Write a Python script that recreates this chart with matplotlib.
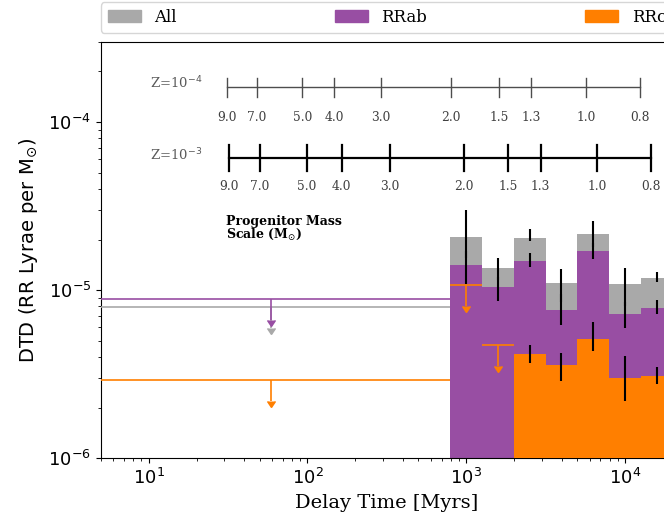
import matplotlib
matplotlib.use("Agg")
import matplotlib.pyplot as plt
from matplotlib.patches import Patch
import numpy as np

# delay time bins [Myr]
bin_edges = [794, 1259, 1995, 3162, 5012, 7943, 12589, 19953]
bin_mid = [1000, 1585, 2512, 3981, 6310, 10000, 15849]

# All RR Lyrae
all_val = [2.06e-5, 1.35e-5, 2.03e-5, 1.10e-5, 2.16e-5, 1.08e-5, 1.18e-5]
all_lo = [1.55e-5, 1.15e-5, 1.95e-5, 0.85e-5, 1.80e-5, 0.80e-5, 1.11e-5]
all_hi = [2.99e-5, 1.56e-5, 2.30e-5, 1.33e-5, 2.56e-5, 1.36e-5, 1.29e-5]

# RRab
rrab_val = [1.41e-5, 1.04e-5, 1.49e-5, 7.61e-6, 1.71e-5, 7.21e-6, 7.82e-6]
rrab_lo = [1.09e-5, 8.57e-6, 1.37e-5, 6.20e-6, 1.53e-5, 5.94e-6, 7.21e-6]
rrab_hi = [1.70e-5, 1.20e-5, 1.67e-5, 9.50e-6, 1.90e-5, 8.50e-6, 8.72e-6]

# RRc (detections from the 3rd bin on, upper limits in the first two)
rrc_edges = [1995, 3162, 5012, 7943, 12589, 19953]
rrc_mid = [2512, 3981, 6310, 10000, 15849]
rrc_val = [4.17e-6, 3.59e-6, 5.12e-6, 3.01e-6, 3.08e-6]
rrc_lo = [3.67e-6, 2.86e-6, 4.36e-6, 2.18e-6, 2.77e-6]
rrc_hi = [4.73e-6, 4.23e-6, 6.43e-6, 4.06e-6, 3.48e-6]
rrc_lim_x = [1000, 1585]
rrc_lim_edges = [794, 1259, 1995]
rrc_lim = [1.07e-5, 4.72e-6]

# youngest bin: upper limits only
young_edges = [5, 794]
young_x = 59
young_all = 7.9e-6
young_rrab = 8.85e-6
young_rrc = 2.93e-6

# progenitor mass scale (lifetimes in Myr)
masses = ["9.0", "7.0", "5.0", "4.0", "3.0", "2.0", "1.5", "1.3", "1.0", "0.8"]
life_z4 = [31, 48, 93, 147, 290, 800, 1616, 2559, 5715, 12470]
life_z3 = [32, 50, 99, 164, 330, 964, 1832, 2939, 6683, 14550]
scale_y4 = 1.61e-4
scale_y3 = 6.1e-5

c_all = "darkgray"
c_ab = "#984ea3"
c_c = "#ff7f00"

fig = plt.figure(figsize=(6.64, 5.16), dpi=100)
ax = fig.add_axes([0.152, 0.112, 0.861, 0.807])
ax.set_xscale("log")
ax.set_yscale("log")

# bars
ax.bar(bin_edges[:-1], all_val, width=np.diff(bin_edges), align="edge",
       color=c_all, zorder=1)
ax.bar(bin_edges[:-1], rrab_val, width=np.diff(bin_edges), align="edge",
       color=c_ab, zorder=2)
ax.bar(rrc_edges[:-1], rrc_val, width=np.diff(rrc_edges), align="edge",
       color=c_c, zorder=3)

# error bars
def err(v, lo, hi):
    v = np.array(v)
    return [v - np.array(lo), np.array(hi) - v]

ax.errorbar(bin_mid, all_val, yerr=err(all_val, all_lo, all_hi), fmt="none",
            ecolor="k", elinewidth=1.5, capsize=0, zorder=5)
ax.errorbar(bin_mid, rrab_val, yerr=err(rrab_val, rrab_lo, rrab_hi), fmt="none",
            ecolor="k", elinewidth=1.5, capsize=0, zorder=5)
ax.errorbar(rrc_mid, rrc_val, yerr=err(rrc_val, rrc_lo, rrc_hi), fmt="none",
            ecolor="k", elinewidth=1.5, capsize=0, zorder=5)

# upper limits
def uplim(x, y, lo, hi, c, lw, z):
    x = np.atleast_1d(x)
    y = np.atleast_1d(y)
    xe = [x - np.atleast_1d(lo), np.atleast_1d(hi) - x]
    ax.errorbar(x, y, xerr=xe, yerr=0.25 * y, uplims=True, fmt="none",
                color=c, ecolor=c, elinewidth=lw, zorder=z)

uplim(young_x, young_all, young_edges[0], young_edges[1], c_all, 1.2, 4)
uplim(young_x, young_rrab, young_edges[0], young_edges[1], c_ab, 1.2, 4)
uplim(young_x, young_rrc, young_edges[0], young_edges[1], c_c, 1.2, 4)
uplim(rrc_lim_x, rrc_lim, rrc_lim_edges[:-1], rrc_lim_edges[1:], c_c, 1.2, 6)

# progenitor mass scale
for life, ys, col, lw, th, dy in [(life_z4, scale_y4, "0.3", 1.0, 1.14, 1.52),
                                  (life_z3, scale_y3, "k", 1.6, 1.2, 1.47)]:
    ax.plot([life[0], life[-1]], [ys, ys], color=col, lw=lw, zorder=6)
    for t, m in zip(life, masses):
        ax.plot([t, t], [ys / th, ys * th], color=col, lw=lw, zorder=6)
        ax.text(t, ys / dy, m, ha="center", va="center", fontsize=8.8,
                family="DejaVu Serif", color="0.25")

ax.text(0.085, 0.901, "Z=10$^{-4}$", transform=ax.transAxes, fontsize=9.5,
        family="DejaVu Serif", color="0.35", va="center")
ax.text(0.085, 0.727, "Z=10$^{-3}$", transform=ax.transAxes, fontsize=9.5,
        family="DejaVu Serif", color="0.35", va="center")
ax.text(0.218, 0.551, "Progenitor Mass\nScale (M$_{\\odot}$)", transform=ax.transAxes,
        fontsize=9, family="DejaVu Serif", fontweight="bold", va="center",
        linespacing=0.85)

ax.set_xlim(5, 19953)
ax.set_ylim(1e-6, 3e-4)
ax.tick_params(labelsize=13)
ax.set_xlabel("Delay Time [Myrs]", family="DejaVu Serif", fontsize=14)
ax.set_ylabel("DTD (RR Lyrae per M$_{\\odot}$)", fontsize=14, labelpad=6)

handles = [Patch(color=c_all, label="All"), Patch(color=c_ab, label="RRab"),
           Patch(color=c_c, label="RRc")]
ax.legend(handles=handles, loc="lower left", bbox_to_anchor=(0, 1.022, 1, 0.1),
          mode="expand", ncol=3, borderaxespad=0,
          prop={"family": "DejaVu Serif", "size": 12})

fig.savefig("out.png", dpi=100)
